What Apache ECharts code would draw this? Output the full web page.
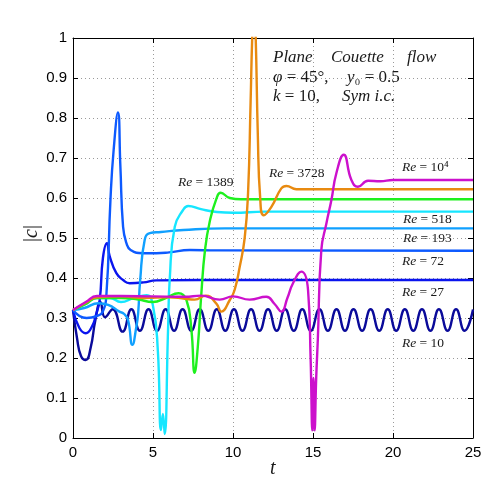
<!DOCTYPE html>
<html><head><meta charset="utf-8">
<script src="https://cdn.jsdelivr.net/npm/echarts@6/dist/echarts.min.js"></script>
<style>html,body{margin:0;padding:0;background:#fff}#c{width:491px;height:491px}</style>
</head><body><div id="c"></div>
<script>
// ---- data: [t, |c|] ----
const re10 = [[0,0.32],[0.25,0.25],[0.5,0.205],[0.8,0.195],[1.1,0.225],[1.4,0.295],[1.71,0.34],[2.0,0.302],[2.48,0.322],[3.1,0.266],[3.65,0.322],[4.18,0.268],[4.72,0.322],[5.25,0.268],[5.79,0.322],[6.32,0.268],[6.85,0.322],[7.39,0.268],[7.92,0.322],[8.46,0.268],[8.99,0.322],[9.52,0.268],[10.06,0.322],[10.59,0.268],[11.13,0.322],[11.66,0.268],[12.19,0.322],[12.73,0.268],[13.26,0.322],[13.80,0.268],[14.33,0.322],[14.86,0.268],[15.40,0.322],[15.93,0.268],[16.47,0.322],[17.00,0.268],[17.53,0.322],[18.07,0.268],[18.60,0.322],[19.14,0.268],[19.67,0.322],[20.20,0.268],[20.74,0.322],[21.27,0.268],[21.81,0.322],[22.34,0.268],[22.87,0.322],[23.41,0.268],[23.94,0.322],[24.47,0.268],[25,0.321]];
const re27 = [[0,0.32],[0.4,0.275],[0.8,0.262],[1.2,0.28],[1.45,0.31],[1.67,0.345],[1.87,0.45],[2.12,0.487],[2.29,0.455],[2.71,0.412],[3.13,0.395],[3.54,0.387],[4.4,0.389],[5.2,0.394],[8,0.395],[25,0.395]];
const re72 = [[0,0.32],[0.4,0.305],[0.85,0.3],[1.5,0.305],[1.85,0.315],[2.09,0.36],[2.34,0.595],[2.54,0.72],[2.81,0.814],[2.96,0.68],[3.13,0.528],[3.34,0.487],[3.6,0.47],[4.375,0.462],[5.2,0.462],[6,0.464],[7.3,0.47],[9,0.469],[25,0.468]];
const re193 = [[0,0.32],[0.7,0.325],[1.6,0.337],[2.2,0.333],[2.9,0.316],[3.2,0.31],[3.44,0.295],[3.71,0.233],[3.96,0.278],[4.07,0.311],[4.2,0.395],[4.48,0.495],[4.8,0.512],[5.5,0.515],[6.9,0.52],[9.5,0.524],[25,0.524]];
const re518 = [[0,0.32],[0.8,0.335],[1.5,0.35],[2.3,0.35],[3,0.34],[3.8,0.35],[4.6,0.357],[5.0,0.33],[5.3,0.22],[5.5,0.02],[5.62,0.06],[5.73,0.01],[5.94,0.27],[6.05,0.4],[6.36,0.528],[6.88,0.57],[7.2,0.58],[8,0.572],[9,0.565],[10,0.563],[12,0.566],[25,0.566]];
const re1389 = [[0,0.32],[0.8,0.335],[1.5,0.35],[3,0.35],[4,0.347],[5.0,0.34],[5.8,0.35],[6.6,0.362],[7.09,0.345],[7.4,0.27],[7.6,0.163],[7.8,0.228],[8.02,0.36],[8.25,0.47],[8.54,0.54],[8.96,0.598],[9.23,0.613],[9.8,0.6],[10.5,0.597],[25,0.597]];
const re3728 = [[0,0.32],[0.8,0.338],[1.5,0.352],[3,0.354],[4.5,0.35],[6,0.352],[7,0.348],[7.6,0.346],[8.3,0.356],[8.96,0.336],[9.27,0.316],[9.8,0.345],[10.1,0.37],[10.42,0.428],[10.73,0.5],[10.94,0.612],[11.1,0.84],[11.2,1.0],[11.31,1.1],[11.42,1.0],[11.55,0.76],[11.7,0.6],[11.92,0.557],[12.4,0.578],[13.02,0.624],[13.34,0.63],[13.96,0.622],[25,0.622]];
const re1e4 = [[0,0.32],[0.8,0.34],[1.5,0.355],[3,0.355],[5,0.354],[7,0.353],[8,0.356],[9.17,0.346],[10,0.354],[11.04,0.346],[12.08,0.353],[12.6,0.335],[13.02,0.316],[13.4,0.35],[13.75,0.387],[14.27,0.416],[14.69,0.37],[14.85,0.2],[14.96,0.019],[15.03,0.15],[15.1,0.019],[15.2,0.15],[15.3,0.245],[15.52,0.47],[15.84,0.537],[16.15,0.595],[16.46,0.662],[16.92,0.708],[17.4,0.645],[17.81,0.628],[18.44,0.643],[19.2,0.642],[20,0.645],[25,0.645]];

const seriesData = [re10, re27, re72, re193, re518, re1389, re3728, re1e4];
const seriesNames = ['Re = 10','Re = 27','Re = 72','Re = 193','Re = 518','Re = 1389','Re = 3728','Re = 10^4'];
const colors = ['#0a0a9a','#0a14ee','#0d5aff','#10a0ff','#16e6ff','#1ef01e','#e88a10','#cc11cc'];

// label texts and anchor positions (pixels)
const reLabels = ['10','27','72','193','518','1389','3728','10⁴'];
const reLabelPos = [[402,343],[402,292],[402,261],[403,238],[403,219],[178,182],[269,173],[402,167]];

const SERIF = '"Liberation Serif", "DejaVu Serif", serif';
const SANS = '"Liberation Sans", Arial, sans-serif';

function tok(size, italic){ return {fontSize:size, fontFamily:SERIF, fontStyle: italic?'italic':'normal', fill:'#1a1a1a', color:'#1a1a1a'}; }
function txt(x, y, text, size, extra){
  return Object.assign({type:'text', x:x, y:y, silent:true, z:100,
    style:{text:text, align:'left', verticalAlign:'middle', textAlign:'left', textVerticalAlign:'middle',
      fill:'#1a1a1a', font: 'italic '+size+'px '+SERIF,
      rich:{i:tok(size,true), n:tok(size,false)}}}, extra||{});
}

const graphics = [];
reLabels.forEach((v,i)=>{
  graphics.push(txt(reLabelPos[i][0], reLabelPos[i][1], '{i|Re} {n|=} {n|'+v+'}', 13.5));
});
// annotation block
graphics.push(txt(273, 58, '{i|Plane}', 17));
graphics.push(txt(331, 58, '{i|Couette}', 17));
graphics.push(txt(407, 58, '{i|flow}', 17));
graphics.push(txt(273, 78, '{i|φ} {n|= 45°,}', 17));
graphics.push(txt(347, 78, '{i|y}{n|₀ = 0.5}', 17));
graphics.push(txt(273, 97, '{i|k} {n|= 10,}', 17));
graphics.push(txt(342, 97, '{i|Sym i.c.}', 17));
// axis names
graphics.push(txt(270, 469, '{i|t}', 20));
graphics.push(txt(32, 242, '{n||}{i|c}{n||}', 20, {rotation: Math.PI/2}));

const axisLineStyle = {color:'#000', width:1};
const gridLine = {show:true, lineStyle:{color:'#9a9a9a', width:1, type:[1,3]}};

const option = {
  animation:false,
  backgroundColor:'#fff',
  grid:{left:73, right:18, top:38, bottom:53, containLabel:false},
  xAxis:[
    {type:'value', min:0, max:25, interval:5, position:'bottom',
     axisLine:{show:true, onZero:false, lineStyle:axisLineStyle},
     axisTick:{show:true, inside:true, length:5, lineStyle:axisLineStyle},
     axisLabel:{color:'#000', fontSize:15, fontFamily:SANS, margin:7},
     splitLine:gridLine},
    {type:'value', min:0, max:25, interval:5, position:'top',
     axisLine:{show:true, onZero:false, lineStyle:axisLineStyle},
     axisTick:{show:true, inside:true, length:5, lineStyle:axisLineStyle},
     axisLabel:{show:false}, splitLine:{show:false}}
  ],
  yAxis:[
    {type:'value', min:0, max:1, interval:0.1, position:'left',
     axisLine:{show:true, onZero:false, lineStyle:axisLineStyle},
     axisTick:{show:true, inside:true, length:5, lineStyle:axisLineStyle},
     axisLabel:{color:'#000', fontSize:15, fontFamily:SANS, margin:6},
     splitLine:gridLine},
    {type:'value', min:0, max:1, interval:0.1, position:'right',
     axisLine:{show:true, onZero:false, lineStyle:axisLineStyle},
     axisTick:{show:true, inside:true, length:5, lineStyle:axisLineStyle},
     axisLabel:{show:false}, splitLine:{show:false}}
  ],
  series: seriesData.map((d,i)=>({
    name: seriesNames[i], type:'line', data:d, xAxisIndex:0, yAxisIndex:0,
    smooth:0.5, showSymbol:false, symbol:'none', clip:true,
    lineStyle:{color:colors[i], width:2.4}, itemStyle:{color:colors[i]}, z:2+i
  })),
  graphic: graphics
};
const chart = echarts.init(document.getElementById('c'), null, {renderer:'canvas'});
chart.setOption(option);
</script></body></html>
